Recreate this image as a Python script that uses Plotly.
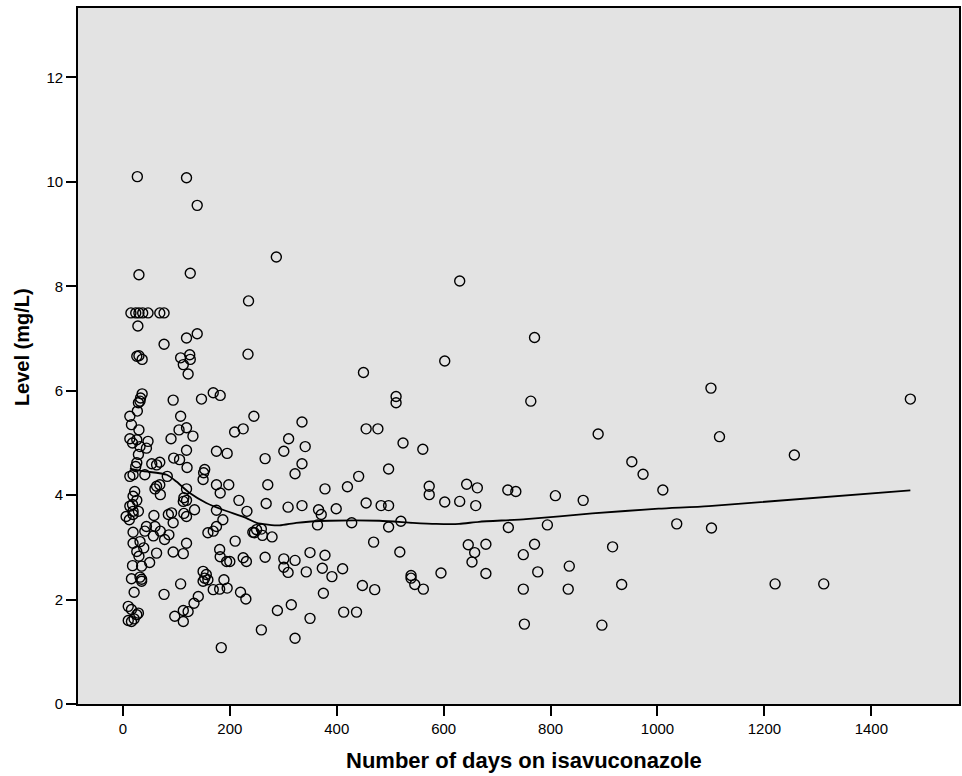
import plotly.graph_objects as go

# ---- data ----
days = [
    27, 119, 139, 30, 126, 235,
    15, 24, 30, 37, 47, 69, 77,
    28, 77, 119, 139,
    26, 30, 36, 108, 125, 126, 113, 122, 234,
    36, 33, 32, 29, 27, 94, 147, 169, 182,
    13, 108, 16, 30, 105, 119, 90, 131, 13, 18, 26,
    47, 44, 32, 119, 175, 195, 209, 225,
    29, 26, 24, 95, 106, 120, 54, 63, 69,
    153, 151, 150, 13, 19, 41, 83,
    175, 198, 182, 63, 69, 60, 70, 119, 217,
    22, 19, 26, 18, 13, 19, 29,
    114, 119, 113, 134, 175, 232,
    6, 12, 19, 58, 85, 91, 94, 114, 119,
    19, 44, 41, 57, 60, 70, 78, 86,
    19, 32, 39, 26, 30, 63, 94, 113, 119,
    18, 35, 50, 16, 35, 35, 32, 21, 77, 108,
    10, 16, 26, 29, 10, 16, 21, 97, 113, 122, 113, 133, 141, 184,
    150, 153, 159, 150, 156, 169, 181, 195, 189,
    159, 169, 175, 187, 210, 181, 182, 194, 200, 225, 231, 220, 230,
    # middle region
    287, 630, 450, 602, 511, 511, 245,
    335, 455, 477, 310, 301, 341, 524, 561, 266,
    335, 322, 441, 497, 271, 378, 420, 573, 573, 643, 663,
    268, 309, 335, 366, 371, 399, 455, 483, 497, 602, 630, 660,
    364, 428, 520, 497, 243, 250, 259, 246, 261, 279,
    469, 646, 658, 653, 595, 518, 266,
    301, 322, 301, 309, 350, 378, 343, 373, 391, 411,
    539, 539, 546, 562, 448, 471, 375, 315, 289, 350, 413, 437, 259, 322,
    # right region
    770, 763, 889, 952, 973, 1010, 720, 735, 809, 861,
    721, 794, 1036, 679, 679, 770, 749, 776, 749, 751,
    835, 833, 916, 933, 896,
    1100, 1116, 1256, 1473, 1101, 1220, 1311,
]
level = [
    10.10, 10.08, 9.55, 8.22, 8.25, 7.72,
    7.49, 7.49, 7.49, 7.49, 7.49, 7.49, 7.49,
    7.24, 6.89, 7.01, 7.09,
    6.66, 6.67, 6.60, 6.63, 6.69, 6.60, 6.50, 6.32, 6.70,
    5.94, 5.86, 5.80, 5.77, 5.61, 5.82, 5.84, 5.96, 5.91,
    5.51, 5.51, 5.35, 5.25, 5.25, 5.29, 5.08, 5.13, 5.08, 5.00, 5.06,
    5.03, 4.90, 4.93, 4.86, 4.84, 4.80, 5.21, 5.27,
    4.78, 4.62, 4.55, 4.71, 4.68, 4.53, 4.60, 4.58, 4.63,
    4.49, 4.43, 4.30, 4.36, 4.39, 4.39, 4.36,
    4.20, 4.20, 4.04, 4.17, 4.20, 4.12, 4.01, 4.12, 3.90,
    4.07, 3.98, 3.90, 3.82, 3.79, 3.69, 3.69,
    3.95, 3.90, 3.88, 3.72, 3.71, 3.69,
    3.59, 3.53, 3.63, 3.61, 3.63, 3.66, 3.47, 3.65, 3.59,
    3.29, 3.40, 3.31, 3.22, 3.40, 3.31, 3.15, 3.24,
    3.08, 3.11, 2.99, 2.92, 2.83, 2.89, 2.91, 2.88, 3.08,
    2.65, 2.64, 2.71, 2.40, 2.39, 2.35, 2.43, 2.14, 2.10, 2.30,
    1.87, 1.81, 1.71, 1.74, 1.60, 1.58, 1.63, 1.68, 1.79, 1.77, 1.58, 1.93, 2.06, 1.08,
    2.54, 2.41, 2.38, 2.35, 2.48, 2.19, 2.20, 2.22, 2.38,
    3.28, 3.31, 3.40, 3.53, 3.12, 2.96, 2.82, 2.73, 2.73, 2.80, 2.73, 2.14, 2.01,
    # middle region
    8.56, 8.10, 6.35, 6.57, 5.89, 5.77, 5.51,
    5.40, 5.27, 5.27, 5.08, 4.84, 4.93, 5.00, 4.88, 4.70,
    4.60, 4.41, 4.36, 4.50, 4.20, 4.12, 4.16, 4.17, 4.01, 4.21, 4.14,
    3.84, 3.77, 3.80, 3.72, 3.63, 3.74, 3.85, 3.80, 3.80, 3.87, 3.88, 3.80,
    3.43, 3.47, 3.50, 3.39, 3.29, 3.34, 3.35, 3.28, 3.23, 3.20,
    3.10, 3.05, 2.90, 2.72, 2.51, 2.91, 2.81,
    2.78, 2.75, 2.62, 2.52, 2.90, 2.85, 2.53, 2.60, 2.44, 2.59,
    2.46, 2.41, 2.29, 2.20, 2.27, 2.19, 2.12, 1.90, 1.79, 1.64, 1.76, 1.76, 1.42, 1.26,
    # right region
    7.02, 5.80, 5.17, 4.64, 4.40, 4.10, 4.10, 4.07, 3.99, 3.90,
    3.38, 3.43, 3.45, 3.06, 2.50, 3.06, 2.86, 2.53, 2.20, 1.53,
    2.64, 2.20, 3.01, 2.29, 1.51,
    6.05, 5.12, 4.77, 5.84, 3.37, 2.30, 2.30,
]

# loess fit line
fit_days = [13, 38, 82, 100, 125, 156, 187, 231, 250, 293, 324, 386, 480, 542,
            586, 629, 666, 754, 878, 1002, 1096, 1473]
fit_level = [4.51, 4.46, 4.39, 4.26, 4.04, 3.85, 3.72, 3.56, 3.47, 3.42, 3.47,
             3.51, 3.51, 3.47, 3.45, 3.45, 3.49, 3.54, 3.65, 3.74, 3.79, 4.09]

x_ticks = [0, 200, 400, 600, 800, 1000, 1200, 1400]
y_ticks = [0, 2, 4, 6, 8, 10, 12]

FONT = "Arial, Liberation Sans, sans-serif"

fig = go.Figure()
fig.add_trace(go.Scatter(
    x=days, y=level, mode="markers",
    marker=dict(symbol="circle-open", size=10, color="black",
                line=dict(color="black", width=1.4)),
    showlegend=False, hoverinfo="x+y",
))
fig.add_trace(go.Scatter(
    x=fit_days, y=fit_level, mode="lines",
    line=dict(color="black", width=1.8, shape="spline", smoothing=0.6),
    showlegend=False, hoverinfo="skip",
))

axis_common = dict(
    ticks="outside", ticklen=10, tickwidth=2, tickcolor="black",
    showgrid=False, zeroline=False,
    showline=True, linecolor="black", linewidth=1.6, mirror=True,
    tickfont=dict(family=FONT, size=15, color="black"),
)

fig.update_layout(
    width=962, height=776,
    margin=dict(l=78, r=1, t=8, b=72),
    paper_bgcolor="white",
    plot_bgcolor="#e3e3e3",
    font=dict(family=FONT, size=15, color="black"),
    xaxis=dict(range=[-84, 1564], tickvals=x_ticks, **axis_common),
    yaxis=dict(range=[0, 13.33], tickvals=y_ticks, **axis_common),
    annotations=[
        dict(text="<b>Number of days on isavuconazole</b>", xref="paper", yref="paper",
             x=0.506, y=-0.0805, xanchor="center", yanchor="middle", showarrow=False,
             font=dict(family=FONT, size=22, color="black")),
        dict(text="<b>Level (mg/L)</b>", xref="paper", yref="paper",
             x=-0.0634, y=0.513, xanchor="center", yanchor="middle", showarrow=False,
             textangle=-90, font=dict(family=FONT, size=20, color="black")),
    ],
)

fig.write_html("out.html")
